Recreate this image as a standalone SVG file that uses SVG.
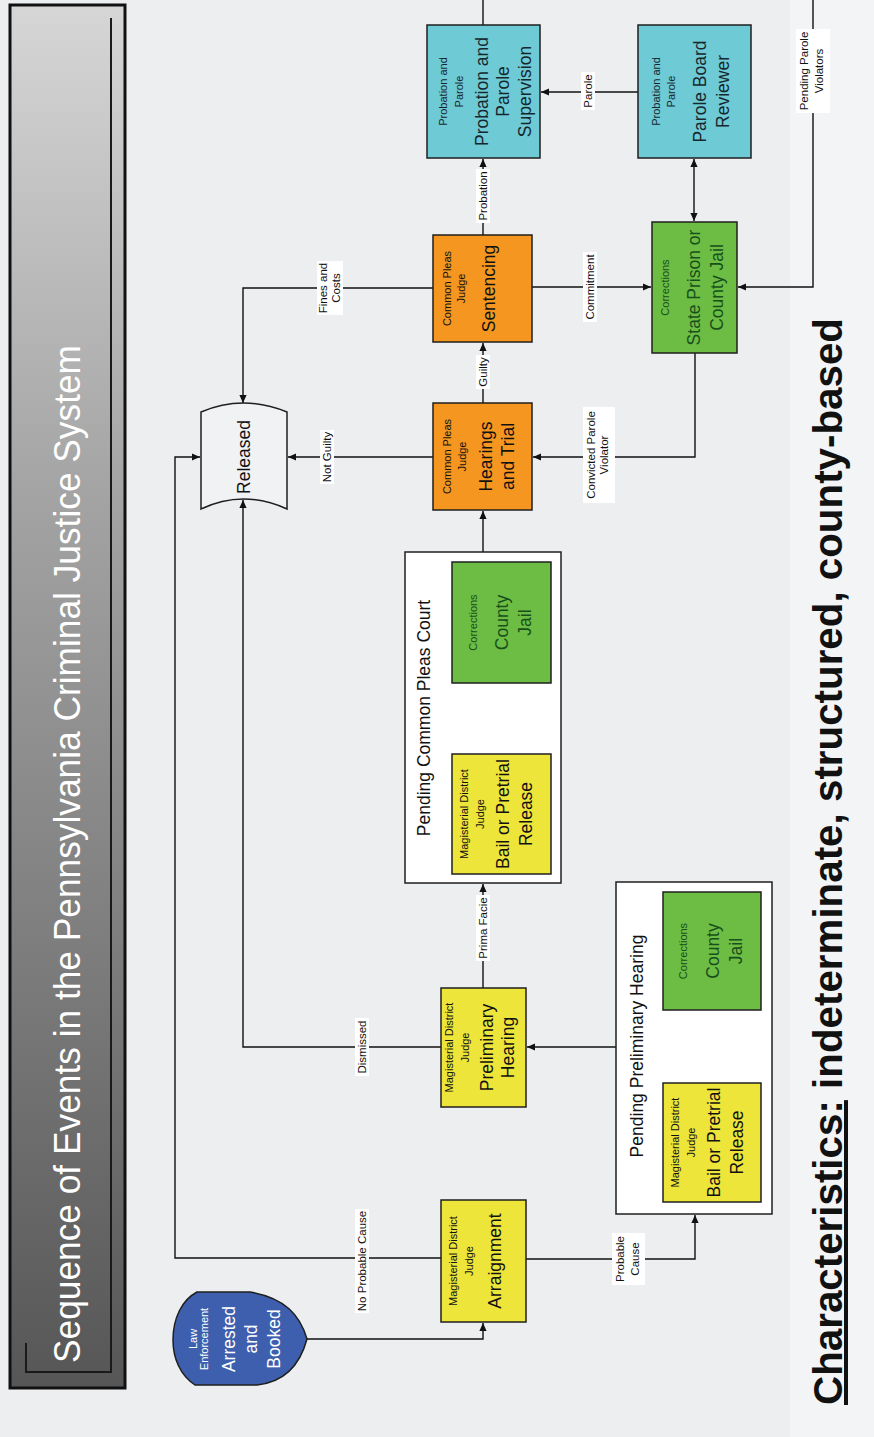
<svg xmlns="http://www.w3.org/2000/svg" width="874" height="1437" viewBox="0 0 874 1437">
<defs>
<style>
text{font-family:"Liberation Sans",Arial,sans-serif;text-anchor:middle}
.bx{stroke:#1f1f1f;stroke-width:1.5}
.y{fill:#eee53b}.o{fill:#f4961f}.g{fill:#6dbd45}.c{fill:#6ecad5}
.cont{fill:#fff;stroke:#1f1f1f;stroke-width:1.5}
.s{font-size:11px}.l{font-size:17.5px}
.k{fill:#111}.gt{fill:#17501a}.ct{fill:#16282e}.w{fill:#fff}
.conn path{fill:none;stroke:#111;stroke-width:1.4;marker-end:url(#ah)}
.conn path.plain{marker-end:none}
.conn path.both{marker-start:url(#ah)}
.lbl rect{fill:#fff}
.lbl text{font-size:11.5px;fill:#111}
</style>
<marker id="ah" viewBox="0 0 10 10" refX="10" refY="5" markerWidth="8" markerHeight="8" markerUnits="userSpaceOnUse" orient="auto-start-reverse"><path d="M0,0.5 L10,5 L0,9.5 z" fill="#111"/></marker>
<linearGradient id="tg" x1="0" y1="0" x2="0" y2="1">
<stop offset="0" stop-color="#d6d6d6"/><stop offset="0.35" stop-color="#a4a4a4"/><stop offset="0.7" stop-color="#7b7b7b"/><stop offset="1" stop-color="#565656"/>
</linearGradient>
</defs>
<rect width="874" height="1437" fill="#eceef0"/>
<rect x="790" y="0" width="84" height="1437" fill="#f3f4f6"/>

<g id="title">
<rect x="10" y="5" width="115" height="1383" fill="url(#tg)" stroke="#111" stroke-width="3"/>
<path d="M26,1343 V1372 H111 V18" fill="none" stroke="#1a1a1a" stroke-width="2"/>
<text transform="translate(80,1363) rotate(-90)" x="0" y="0" style="text-anchor:start;font-size:37px" fill="#fff" textLength="1018" lengthAdjust="spacingAndGlyphs">Sequence of Events in the Pennsylvania Criminal Justice System</text>
</g>

<g id="connectors" class="conn">
<path d="M307,1339 H483 V1323"/>
<path d="M441,1258 H175 V457 H200"/>
<path d="M526,1259 H695 V1215"/>
<path d="M616,1047 H527"/>
<path d="M711,1083 V1011"/>
<path d="M441,1047 H243 V500"/>
<path d="M483,988 V884"/>
<path d="M499,754 V684"/>
<path d="M483,552 V511"/>
<path d="M433,457 H288"/>
<path d="M483,403 V343"/>
<path d="M433,288 H243 V403"/>
<path d="M532,287 H651"/>
<path d="M483,235 V159"/>
<path d="M638,92 H541"/>
<path class="both" d="M694,159 V221"/>
<path d="M695,353 V457 H533"/>
<path d="M813,0 V287 H738"/>
<path class="plain" d="M483,25 V0"/>
<g class="lbl">
<g transform="translate(362,1261) rotate(-90)"><rect x="-52" y="-7" width="104" height="14"/><text y="4">No Probable Cause</text></g>
<g transform="translate(628,1259) rotate(-90)"><rect x="-26" y="-16" width="52" height="33"/><text y="-4">Probable</text><text y="11">Cause</text></g>
<g transform="translate(362,1047) rotate(-90)"><rect x="-29" y="-7" width="58" height="14"/><text y="4">Dismissed</text></g>
<g transform="translate(483,928) rotate(-90)"><rect x="-33" y="-7" width="66" height="14"/><text y="4">Prima Facie</text></g>
<g transform="translate(711,1047) rotate(-90)"><rect x="-21" y="-13" width="42" height="26"/><text y="-3">Violate</text><text y="9">Bail</text></g>
<g transform="translate(499,719) rotate(-90)"><rect x="-21" y="-13" width="42" height="26"/><text y="-4">Violate</text><text y="9">Bail</text></g>
<g transform="translate(327,457) rotate(-90)"><rect x="-27" y="-7" width="54" height="14"/><text y="4">Not Guilty</text></g>
<g transform="translate(483,372) rotate(-90)"><rect x="-17" y="-7" width="34" height="14"/><text y="4">Guilty</text></g>
<g transform="translate(330,288) rotate(-90)"><rect x="-27" y="-13" width="54" height="26"/><text y="-3">Fines and</text><text y="10">Costs</text></g>
<g transform="translate(590,287) rotate(-90)"><rect x="-35" y="-7" width="70" height="14"/><text y="4">Commitment</text></g>
<g transform="translate(483,196) rotate(-90)"><rect x="-27" y="-7" width="54" height="14"/><text y="4">Probation</text></g>
<g transform="translate(588,91) rotate(-90)"><rect x="-19" y="-7" width="38" height="14"/><text y="4">Parole</text></g>
<g transform="translate(599,455) rotate(-90)"><rect x="-48" y="-16" width="96" height="32"/><text y="-4">Convicted Parole</text><text y="9">Violator</text></g>
<g transform="translate(813,71) rotate(-90)"><rect x="-42" y="-17" width="84" height="34"/><text y="-5">Pending Parole</text><text y="10">Violators</text></g>
</g>
</g>

<g id="arrested">
<path d="M197,1292 L250,1292 C285,1298 300,1315 307,1339 C300,1365 285,1382 257,1385 L195,1385 C180,1375 173,1358 173,1340 C173,1318 182,1300 197,1292 Z" fill="#3e5fae" stroke="#1f1f1f" stroke-width="1.5"/>
<g transform="translate(240,1339) rotate(-90)" class="w"><text class="s" y="-43">Law</text><text class="s" y="-32">Enforcement</text><text class="l" y="-5">Arrested</text><text class="l" y="17">and</text><text class="l" y="40">Booked</text></g>
</g>

<g id="arraignment">
<rect class="bx y" x="441" y="1200" width="85" height="122"/>
<g transform="translate(483.5,1261) rotate(-90)" class="k"><text class="s" y="-27">Magisterial District</text><text class="s" y="-11">Judge</text><text class="l" y="17">Arraignment</text></g>
</g>

<g id="preliminary-hearing">
<rect class="bx y" x="441" y="988" width="85" height="119"/>
<g transform="translate(483.5,1047.5) rotate(-90)" class="k"><text class="s" y="-31">Magisterial District</text><text class="s" y="-15">Judge</text><text class="l" y="9">Preliminary</text><text class="l" y="30">Hearing</text></g>
</g>

<g id="pending-preliminary-hearing">
<rect class="cont" x="616" y="882" width="156" height="332"/>
<text class="l k" transform="translate(643,1046) rotate(-90)">Pending Preliminary Hearing</text>
</g>

<g id="bail-prelim">
<rect class="bx y" x="663" y="1083" width="98" height="119"/>
<g transform="translate(712,1142.5) rotate(-90)" class="k"><text class="s" y="-33">Magisterial District</text><text class="s" y="-17">Judge</text><text class="l" y="8">Bail or Pretrial</text><text class="l" y="31">Release</text></g>
</g>

<g id="jail-prelim">
<rect class="bx g" x="663" y="892" width="98" height="118"/>
<g transform="translate(712,951) rotate(-90)" class="gt"><text class="s" y="-25">Corrections</text><text class="l" y="7">County</text><text class="l" y="30">Jail</text></g>
</g>

<g id="pending-common-pleas">
<rect class="cont" x="405" y="552" width="156" height="331"/>
<text class="l k" transform="translate(430,718) rotate(-90)">Pending Common Pleas Court</text>
</g>

<g id="bail-cp">
<rect class="bx y" x="452" y="754" width="99" height="120"/>
<g transform="translate(501.5,814) rotate(-90)" class="k"><text class="s" y="-34">Magisterial District</text><text class="s" y="-18">Judge</text><text class="l" y="7">Bail or Pretrial</text><text class="l" y="30">Release</text></g>
</g>

<g id="jail-cp">
<rect class="bx g" x="452" y="562" width="99" height="121"/>
<g transform="translate(501.5,622.5) rotate(-90)" class="gt"><text class="s" y="-24.5">Corrections</text><text class="l" y="6.5">County</text><text class="l" y="29.5">Jail</text></g>
</g>

<g id="released">
<path d="M201,412 Q243,394 287,412 L287,509 Q243,489 201,509 Z" fill="#f1f2f4" stroke="#1f1f1f" stroke-width="1.5"/>
<text class="l k" transform="translate(243,457) rotate(-90)" y="7">Released</text>
</g>

<g id="hearings-trial">
<rect class="bx o" x="433" y="403" width="99" height="107"/>
<g transform="translate(482.5,456.5) rotate(-90)" class="k"><text class="s" y="-32">Common Pleas</text><text class="s" y="-17">Judge</text><text class="l" y="9">Hearings</text><text class="l" y="31">and Trial</text></g>
</g>

<g id="sentencing">
<rect class="bx o" x="433" y="235" width="99" height="107"/>
<g transform="translate(482.5,288.5) rotate(-90)" class="k"><text class="s" y="-31.5">Common Pleas</text><text class="s" y="-17.5">Judge</text><text class="l" y="12.5">Sentencing</text></g>
</g>

<g id="state-prison">
<rect class="bx g" x="652" y="222" width="85" height="131"/>
<g transform="translate(694.5,287.5) rotate(-90)" class="gt"><text class="s" y="-25.5">Corrections</text><text class="l" y="5.5">State Prison or</text><text class="l" y="28.5">County Jail</text></g>
</g>

<g id="supervision">
<rect class="bx c" x="427" y="25" width="113" height="133"/>
<g transform="translate(483.5,91.5) rotate(-90)" class="ct"><text class="s" y="-36.5">Probation and</text><text class="s" y="-20.5">Parole</text><text class="l" y="4.5">Probation and</text><text class="l" y="25.5">Parole</text><text class="l" y="47.5">Supervision</text></g>
</g>

<g id="parole-board">
<rect class="bx c" x="638" y="25" width="113" height="133"/>
<g transform="translate(694.5,91.5) rotate(-90)" class="ct"><text class="s" y="-35">Probation and</text><text class="s" y="-20">Parole</text><text class="l" y="11">Parole Board</text><text class="l" y="34">Reviewer</text></g>
</g>

<g id="characteristics">
<text transform="translate(842,1405) rotate(-90)" style="text-anchor:start;font-size:40px;font-weight:bold" fill="#111" textLength="1087" lengthAdjust="spacingAndGlyphs"><tspan text-decoration="underline">Characteristics:</tspan> indeterminate, structured, county-based</text>
</g>
</svg>
